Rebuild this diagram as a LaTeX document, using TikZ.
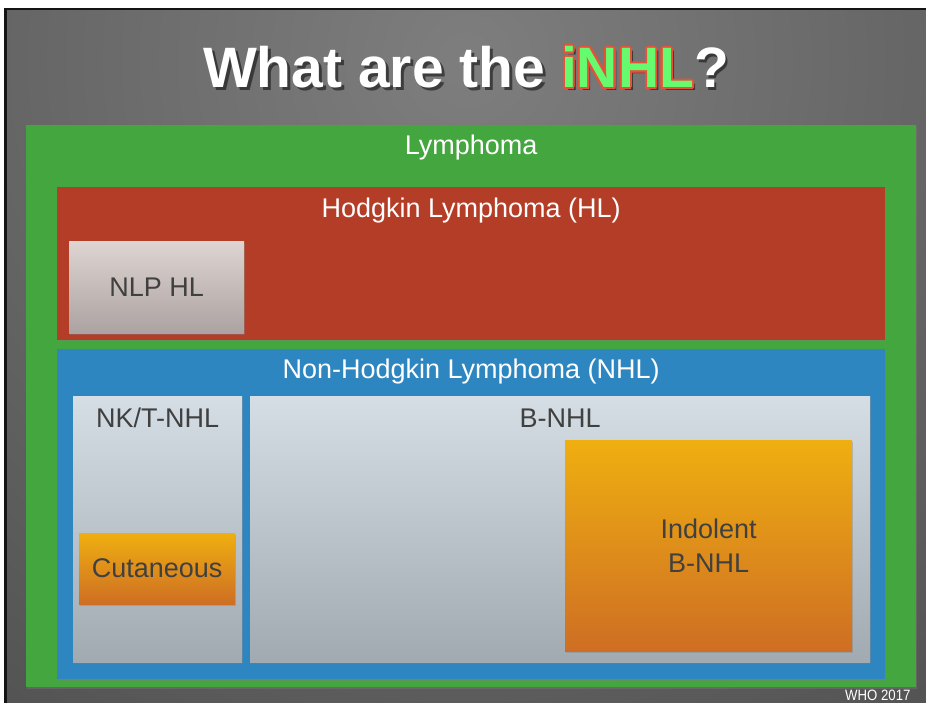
\documentclass[tikz,border=0pt]{standalone}
\usepackage{fontspec}
\setmainfont{Liberation Sans}
\usepackage{contour}
\usetikzlibrary{positioning}
\usetikzlibrary{shadows}
\contourlength{2pt}
\contournumber{24}
\definecolor{framedark}{RGB}{20,20,20}
\definecolor{bgdark}{RGB}{82,82,82}
\definecolor{bglight}{RGB}{126,126,126}
\definecolor{lymphgreen}{RGB}{68,166,63}
\definecolor{hlred}{RGB}{180,61,39}
\definecolor{nhlblue}{RGB}{46,134,193}
\definecolor{paletop}{RGB}{212,222,228}
\definecolor{palebottom}{RGB}{160,170,176}
\definecolor{rosetop}{RGB}{222,212,209}
\definecolor{rosebottom}{RGB}{172,162,161}
\definecolor{ambertop}{RGB}{239,175,16}
\definecolor{amberbottom}{RGB}{206,110,36}
\definecolor{inhlgreen}{RGB}{102,250,110}
\definecolor{inhlred}{RGB}{232,80,58}
\definecolor{labelgray}{RGB}{64,64,64}
\tikzset{panel/.style = {rectangle, inner sep=0pt, anchor=north west,
                         drop shadow={shadow xshift=1pt, shadow yshift=-1.5pt, opacity=0.35}},
         lymphbox/.style = {panel, fill=lymphgreen},
         hlbox/.style = {panel, fill=hlred},
         nhlbox/.style = {panel, fill=nhlblue},
         subbox/.style = {panel, top color=paletop, bottom color=palebottom},
         nlpbox/.style = {panel, top color=rosetop, bottom color=rosebottom,
                          text=labelgray, font=\fontsize{27}{32}\selectfont},
         ambox/.style = {panel, top color=ambertop, bottom color=amberbottom,
                         text=labelgray, font=\fontsize{27}{34}\selectfont, align=center},
         headtext/.style = {text=white, font=\fontsize{27}{32}\selectfont},
         subtext/.style = {text=labelgray, font=\fontsize{27}{32}\selectfont},
         titletext/.style = {anchor=base, font=\fontsize{57}{60}\selectfont\bfseries}}

\begin{document}
\begin{tikzpicture}[x=1pt, y=-1pt]
    \useasboundingbox (0, 0) rectangle (926, 703);
    \fill [framedark] (4, 8) rectangle (926, 703);
    \begin{scope}
      \clip (7, 11) rectangle (926, 703);
      \fill [bgdark] (7, 11) rectangle (926, 703);
      \shade [inner color=bglight, outer color=bgdark] (466, 60) circle (820);
    \end{scope}

    % title
    \node [titletext, text=black, opacity=0.5] (titleshadow) at (469, 91)
      {What are the iNHL?};
    \node [titletext, text=white] (title) at (466, 88)
      {What are the \contour{inhlred}{\textcolor{inhlgreen}{iNHL}}?};

    \node [lymphbox, minimum width=890pt, minimum height=562pt] (lymph) at (26, 125) {};
    \node [headtext] (lymphlbl) at ([yshift=-23pt]lymph.north) {Lymphoma};

    \node [hlbox, minimum width=828pt, minimum height=153pt] (hl) at (57, 187) {};
    \node [headtext] (hllbl) at ([yshift=-24pt]hl.north) {Hodgkin Lymphoma (HL)};
    \node [nlpbox, minimum width=175pt, minimum height=92pt] (nlp) at (69, 241) {NLP HL};

    \node [nhlbox, minimum width=828pt, minimum height=330pt] (nhl) at (57, 349) {};
    \node [headtext] (nhllbl) at ([yshift=-23pt]nhl.north) {Non-Hodgkin Lymphoma (NHL)};

    \node [subbox, minimum width=169pt, minimum height=266pt] (tnhl) at (73, 396) {};
    \node [subtext] (tnhllbl) at ([yshift=-22pt]tnhl.north) {NK/T-NHL};
    \node [ambox, minimum width=156pt, minimum height=71pt] (cutan) at (79, 533) {Cutaneous};

    \node [subbox, minimum width=620pt, minimum height=266pt] (bnhl) at (250, 396) {};
    \node [subtext] (bnhllbl) at ([yshift=-22pt]bnhl.north) {B-NHL};
    \node [ambox, minimum width=287pt, minimum height=211pt] (indol) at (565, 440)
      {Indolent\\B-NHL};

    \node [anchor=base east, text=white, font=\fontsize{15}{17}\selectfont] (source)
      at (914, 700) {\scalebox{0.88}[1]{WHO 2017}};
  \end{tikzpicture}
\end{document}
